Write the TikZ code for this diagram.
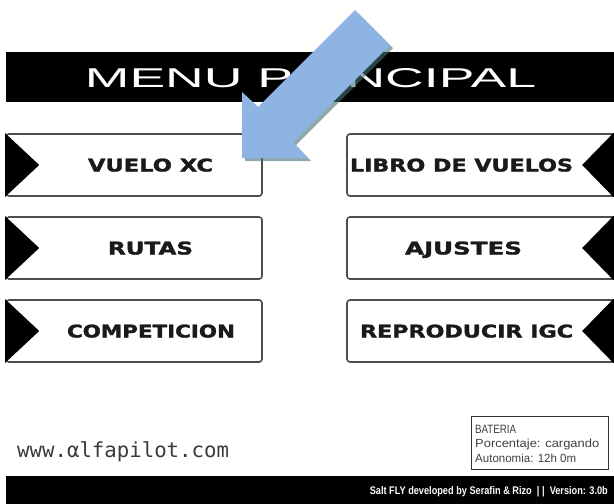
\documentclass[tikz,border=0pt]{standalone}
\usepackage{fontspec}
\usepackage{graphicx}
\setmainfont{Liberation Sans}
\newfontfamily\btnfont{DejaVu Sans}[BoldFeatures={FakeBold=1.5}]
\newfontfamily\urlfont{DejaVu Sans Mono}
\usetikzlibrary{calc}
\definecolor{arrowblue}{HTML}{8DB4E2}
\definecolor{arrowshadow}{HTML}{4A6F7A}
\definecolor{boxline}{HTML}{4D4D4D}
\definecolor{txtdark}{HTML}{1A1A1A}
\definecolor{urlgrey}{HTML}{3A3A3A}
\begin{document}
\begin{tikzpicture}[x=1pt,y=-1pt,
  menubox/.style={draw=boxline, line width=1.6pt, rounded corners=3pt, fill=white,
    minimum width=#1, minimum height=62pt, inner sep=0pt},
  btntext/.style={inner sep=0pt, text=txtdark, anchor=base},
  tri/.style={fill=black},
  bar/.style={fill=black},
  bigarrow/.style={fill=arrowblue},
  arrowshade/.style={fill=arrowshadow, fill opacity=0.6}
]
\useasboundingbox (0,0) rectangle (614,504);
\clip (0,0) rectangle (614,504);
\fill[white] (0,0) rectangle (614,504);

% header bar
\path[bar] (6,52) rectangle (640,102);
\node[inner sep=0pt, anchor=base] (title) at (310.5,87) {\resizebox{451pt}{19pt}{\color{white}MENU PRINCIPAL}};

% left buttons
\node[menubox=256pt] (b1) at (134,165) {};
\node[menubox=256pt] (b2) at (134,248) {};
\node[menubox=256pt] (b3) at (134,331) {};
% right buttons
\node[menubox=303pt] (b4) at (498.5,165) {};
\node[menubox=303pt] (b5) at (498.5,248) {};
\node[menubox=303pt] (b6) at (498.5,331) {};

% triangles
\foreach \b in {b1,b2,b3}{
  \path[tri] (\b.north west) -- ($(\b.west)+(34,0)$) -- (\b.south west) -- cycle;
}
\foreach \b in {b4,b5,b6}{
  \path[tri] ($(\b.north west)+(267,0)$) -- ($(\b.west)+(236,0)$) -- ($(\b.south west)+(267,0)$)
     -- ($(\b.south west)+(300,0)$) -- ($(\b.north west)+(300,0)$) -- cycle;
}

% button texts (baseline = row centre + 6.5)
\node[btntext] (t1) at (150.5,171.5) {\resizebox{125pt}{13pt}{\btnfont\bfseries VUELO XC}};
\node[btntext] (t2) at (150.5,254.5) {\resizebox{85pt}{13pt}{\btnfont\bfseries RUTAS}};
\node[btntext] (t3) at (151,337.5) {\resizebox{168pt}{13pt}{\btnfont\bfseries COMPETICION}};
\node[btntext] (t4) at (461.5,171.5) {\resizebox{223pt}{13pt}{\btnfont\bfseries LIBRO DE VUELOS}};
\node[btntext] (t5) at (463.5,254.5) {\resizebox{117pt}{13pt}{\btnfont\bfseries AJUSTES}};
\node[btntext] (t6) at (466.5,337.5) {\resizebox{213pt}{13pt}{\btnfont\bfseries REPRODUCIR IGC}};

% url
\node[anchor=base west, inner sep=0pt, text=urlgrey] (url) at (17,457)
  {\urlfont\fontsize{20.7}{24}\selectfont www.αlfapilot.com};

% battery box
\node[draw=black!80, line width=1.3pt, minimum width=137pt, minimum height=53pt,
  anchor=north west, inner sep=0pt] (bat) at (471,416) {};
\node[anchor=base west, inner sep=0pt, text=black!75] (bl1) at (475,433) {\resizebox{41pt}{8.3pt}{BATERIA}};
\node[anchor=base west, inner sep=0pt, text=black!75] (bl2) at (475,447.5) {\resizebox{124pt}{8.5pt}{Porcentaje: cargando}};
\node[anchor=base west, inner sep=0pt, text=black!75] (bl3) at (475,462) {\resizebox{101pt}{8.5pt}{Autonomia: 12h 0m}};

% footer bar
\path[bar] (6,476) rectangle (640,510);
\node[anchor=base east, inner sep=0pt, text=white] (foot) at (608,494)
  {\resizebox{238pt}{8pt}{\bfseries Salt FLY developed by Serafin \& Rizo \ | | \ Version: 3.0b}};

% blue arrow with shadow
\coordinate (tip) at (242,158);
\coordinate (hA) at (242,92);
\coordinate (hB) at (308,158);
\coordinate (s1) at (258,107);
\coordinate (s2) at (293,142);
\coordinate (e1) at (355,10);
\coordinate (e2) at (390,45);
\path[arrowshade] ($(tip)+(3,3)$) -- ($(hA)+(3,3)$) -- ($(s1)+(3,3)$) -- ($(e1)+(3,3)$)
   -- ($(e2)+(3,3)$) -- ($(s2)+(3,3)$) -- ($(hB)+(3,3)$) -- cycle;
\path[bigarrow] (tip) -- (hA) -- (s1) -- (e1) -- (e2) -- (s2) -- (hB) -- cycle;
\end{tikzpicture}
\end{document}
